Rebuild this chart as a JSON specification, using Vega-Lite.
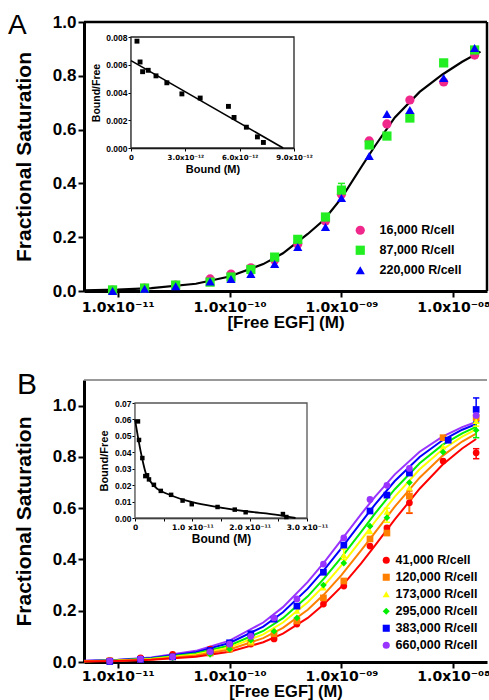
{
  "$schema": "https://vega.github.io/schema/vega-lite/v6.json",
  "padding": {"left": 8, "top": 12, "right": 0, "bottom": 0},
  "background": "white",
  "bounds": "flush",
  "spacing": 89,
  "resolve": {"scale": {"color": "independent", "shape": "independent", "stroke": "independent"}, "legend": {"color": "independent", "shape": "independent", "stroke": "independent"}},
  "config": {
    "font": "Liberation Sans",
    "view": {"stroke": null},
    "axis": {"grid": false, "domainColor": "black", "tickColor": "black", "labelColor": "black", "titleColor": "black", "labelFont": "Liberation Sans", "titleFont": "Liberation Sans", "labelFontWeight": "bold", "titleFontWeight": "bold"},
    "legend": {"labelFont": "Liberation Sans", "labelColor": "black"}
  },
  "datasets": {
    "a_fit": [
      {"x": 5e-12, "y": 0.002}, {"x": 1e-11, "y": 0.005}, {"x": 2e-11, "y": 0.011}, {"x": 5e-11, "y": 0.027},
      {"x": 1e-10, "y": 0.054}, {"x": 2e-10, "y": 0.1}, {"x": 3e-10, "y": 0.14}, {"x": 5e-10, "y": 0.212},
      {"x": 7e-10, "y": 0.265}, {"x": 1e-9, "y": 0.345}, {"x": 1.5e-9, "y": 0.46}, {"x": 2e-9, "y": 0.54},
      {"x": 3e-9, "y": 0.645}, {"x": 5e-9, "y": 0.74}, {"x": 8e-9, "y": 0.805}, {"x": 1.2e-8, "y": 0.852},
      {"x": 1.75e-8, "y": 0.89}
    ],
    "a_pts": [
      {"x": 9e-12, "y": 0.003, "s": "16,000 R/cell"}, {"x": 9e-12, "y": 0.004, "s": "87,000 R/cell"}, {"x": 9e-12, "y": 0.0, "s": "220,000 R/cell"},
      {"x": 1.74e-11, "y": 0.011, "s": "16,000 R/cell"}, {"x": 1.74e-11, "y": 0.011, "s": "87,000 R/cell"}, {"x": 1.74e-11, "y": 0.008, "s": "220,000 R/cell"},
      {"x": 3.3e-11, "y": 0.022, "s": "16,000 R/cell"}, {"x": 3.3e-11, "y": 0.022, "s": "87,000 R/cell"}, {"x": 3.3e-11, "y": 0.018, "s": "220,000 R/cell"},
      {"x": 6.7e-11, "y": 0.045, "s": "16,000 R/cell"}, {"x": 6.7e-11, "y": 0.033, "s": "87,000 R/cell"}, {"x": 6.7e-11, "y": 0.035, "s": "220,000 R/cell"},
      {"x": 1.03e-10, "y": 0.063, "s": "16,000 R/cell"}, {"x": 1.03e-10, "y": 0.052, "s": "87,000 R/cell"}, {"x": 1.03e-10, "y": 0.045, "s": "220,000 R/cell"},
      {"x": 1.55e-10, "y": 0.086, "s": "16,000 R/cell"}, {"x": 1.55e-10, "y": 0.08, "s": "87,000 R/cell"}, {"x": 1.55e-10, "y": 0.063, "s": "220,000 R/cell"},
      {"x": 2.53e-10, "y": 0.115, "s": "16,000 R/cell"}, {"x": 2.53e-10, "y": 0.126, "s": "87,000 R/cell"}, {"x": 2.53e-10, "y": 0.1, "s": "220,000 R/cell"},
      {"x": 4.07e-10, "y": 0.175, "s": "16,000 R/cell"}, {"x": 4.07e-10, "y": 0.192, "s": "87,000 R/cell"}, {"x": 4.07e-10, "y": 0.164, "s": "220,000 R/cell"},
      {"x": 7.2e-10, "y": 0.26, "s": "16,000 R/cell"}, {"x": 7.2e-10, "y": 0.275, "s": "87,000 R/cell"}, {"x": 7.2e-10, "y": 0.238, "s": "220,000 R/cell"},
      {"x": 1.0e-9, "y": 0.36, "s": "16,000 R/cell"}, {"x": 1.0e-9, "y": 0.375, "s": "87,000 R/cell"}, {"x": 1.0e-9, "y": 0.346, "s": "220,000 R/cell"},
      {"x": 1.77e-9, "y": 0.558, "s": "16,000 R/cell"}, {"x": 1.77e-9, "y": 0.543, "s": "87,000 R/cell"}, {"x": 1.77e-9, "y": 0.502, "s": "220,000 R/cell"},
      {"x": 2.55e-9, "y": 0.621, "s": "16,000 R/cell"}, {"x": 2.55e-9, "y": 0.576, "s": "87,000 R/cell"}, {"x": 2.55e-9, "y": 0.658, "s": "220,000 R/cell"},
      {"x": 4.09e-9, "y": 0.71, "s": "16,000 R/cell"}, {"x": 4.09e-9, "y": 0.643, "s": "87,000 R/cell"}, {"x": 4.09e-9, "y": 0.673, "s": "220,000 R/cell"},
      {"x": 8.2e-9, "y": 0.777, "s": "16,000 R/cell"}, {"x": 8.2e-9, "y": 0.848, "s": "87,000 R/cell"}, {"x": 8.2e-9, "y": 0.792, "s": "220,000 R/cell"},
      {"x": 1.55e-8, "y": 0.877, "s": "16,000 R/cell"}, {"x": 1.55e-8, "y": 0.896, "s": "87,000 R/cell"}, {"x": 1.55e-8, "y": 0.903, "s": "220,000 R/cell"}
    ],
    "a_err": [{"x": 1.0e-9, "lo": 0.355, "hi": 0.40}],
    "a_ins_pts": [
      {"bx": 3.3e-13, "bf": 0.0077}, {"bx": 5e-13, "bf": 0.0062}, {"bx": 6.4e-13, "bf": 0.0055}, {"bx": 9.5e-13, "bf": 0.0056},
      {"bx": 1.38e-12, "bf": 0.0052}, {"bx": 1.98e-12, "bf": 0.0047}, {"bx": 2.81e-12, "bf": 0.0039}, {"bx": 3.82e-12, "bf": 0.0036},
      {"bx": 5.38e-12, "bf": 0.003}, {"bx": 5.69e-12, "bf": 0.0022}, {"bx": 6.37e-12, "bf": 0.0015}, {"bx": 6.98e-12, "bf": 0.0008},
      {"bx": 7.31e-12, "bf": 0.0004}
    ],
    "a_ins_fit": [{"bx": 0, "bf": 0.0063}, {"bx": 8.4e-12, "bf": 0}],
    "b_fit": [
      {"x": 5e-12, "y": 0.0045, "g": "660,000 R/cell"}, {"x": 1e-11, "y": 0.009, "g": "660,000 R/cell"}, {"x": 2e-11, "y": 0.0179, "g": "660,000 R/cell"}, {"x": 5e-11, "y": 0.0435, "g": "660,000 R/cell"}, {"x": 1e-10, "y": 0.0833, "g": "660,000 R/cell"}, {"x": 2e-10, "y": 0.154, "g": "660,000 R/cell"}, {"x": 3e-10, "y": 0.214, "g": "660,000 R/cell"}, {"x": 5e-10, "y": 0.3125, "g": "660,000 R/cell"}, {"x": 7e-10, "y": 0.389, "g": "660,000 R/cell"}, {"x": 1e-9, "y": 0.476, "g": "660,000 R/cell"}, {"x": 1.5e-9, "y": 0.577, "g": "660,000 R/cell"}, {"x": 2e-9, "y": 0.645, "g": "660,000 R/cell"}, {"x": 3e-9, "y": 0.732, "g": "660,000 R/cell"}, {"x": 5e-9, "y": 0.82, "g": "660,000 R/cell"}, {"x": 8e-9, "y": 0.879, "g": "660,000 R/cell"}, {"x": 1.2e-8, "y": 0.916, "g": "660,000 R/cell"}, {"x": 1.6e-8, "y": 0.936, "g": "660,000 R/cell"},
      {"x": 5e-12, "y": 0.004, "g": "383,000 R/cell"}, {"x": 1e-11, "y": 0.0079, "g": "383,000 R/cell"}, {"x": 2e-11, "y": 0.0157, "g": "383,000 R/cell"}, {"x": 5e-11, "y": 0.0385, "g": "383,000 R/cell"}, {"x": 1e-10, "y": 0.0741, "g": "383,000 R/cell"}, {"x": 2e-10, "y": 0.138, "g": "383,000 R/cell"}, {"x": 3e-10, "y": 0.194, "g": "383,000 R/cell"}, {"x": 5e-10, "y": 0.286, "g": "383,000 R/cell"}, {"x": 7e-10, "y": 0.359, "g": "383,000 R/cell"}, {"x": 1e-9, "y": 0.444, "g": "383,000 R/cell"}, {"x": 1.5e-9, "y": 0.545, "g": "383,000 R/cell"}, {"x": 2e-9, "y": 0.615, "g": "383,000 R/cell"}, {"x": 3e-9, "y": 0.706, "g": "383,000 R/cell"}, {"x": 5e-9, "y": 0.8, "g": "383,000 R/cell"}, {"x": 8e-9, "y": 0.865, "g": "383,000 R/cell"}, {"x": 1.2e-8, "y": 0.906, "g": "383,000 R/cell"}, {"x": 1.6e-8, "y": 0.928, "g": "383,000 R/cell"},
      {"x": 5e-12, "y": 0.0034, "g": "295,000 R/cell"}, {"x": 1e-11, "y": 0.0068, "g": "295,000 R/cell"}, {"x": 2e-11, "y": 0.0136, "g": "295,000 R/cell"}, {"x": 5e-11, "y": 0.0333, "g": "295,000 R/cell"}, {"x": 1e-10, "y": 0.0645, "g": "295,000 R/cell"}, {"x": 2e-10, "y": 0.121, "g": "295,000 R/cell"}, {"x": 3e-10, "y": 0.171, "g": "295,000 R/cell"}, {"x": 5e-10, "y": 0.256, "g": "295,000 R/cell"}, {"x": 7e-10, "y": 0.326, "g": "295,000 R/cell"}, {"x": 1e-9, "y": 0.408, "g": "295,000 R/cell"}, {"x": 1.5e-9, "y": 0.508, "g": "295,000 R/cell"}, {"x": 2e-9, "y": 0.58, "g": "295,000 R/cell"}, {"x": 3e-9, "y": 0.674, "g": "295,000 R/cell"}, {"x": 5e-9, "y": 0.775, "g": "295,000 R/cell"}, {"x": 8e-9, "y": 0.847, "g": "295,000 R/cell"}, {"x": 1.2e-8, "y": 0.892, "g": "295,000 R/cell"}, {"x": 1.6e-8, "y": 0.917, "g": "295,000 R/cell"},
      {"x": 5e-12, "y": 0.003, "g": "173,000 R/cell"}, {"x": 1e-11, "y": 0.006, "g": "173,000 R/cell"}, {"x": 2e-11, "y": 0.012, "g": "173,000 R/cell"}, {"x": 5e-11, "y": 0.0294, "g": "173,000 R/cell"}, {"x": 1e-10, "y": 0.0571, "g": "173,000 R/cell"}, {"x": 2e-10, "y": 0.108, "g": "173,000 R/cell"}, {"x": 3e-10, "y": 0.154, "g": "173,000 R/cell"}, {"x": 5e-10, "y": 0.233, "g": "173,000 R/cell"}, {"x": 7e-10, "y": 0.298, "g": "173,000 R/cell"}, {"x": 1e-9, "y": 0.377, "g": "173,000 R/cell"}, {"x": 1.5e-9, "y": 0.476, "g": "173,000 R/cell"}, {"x": 2e-9, "y": 0.548, "g": "173,000 R/cell"}, {"x": 3e-9, "y": 0.645, "g": "173,000 R/cell"}, {"x": 5e-9, "y": 0.752, "g": "173,000 R/cell"}, {"x": 8e-9, "y": 0.829, "g": "173,000 R/cell"}, {"x": 1.2e-8, "y": 0.879, "g": "173,000 R/cell"}, {"x": 1.6e-8, "y": 0.907, "g": "173,000 R/cell"},
      {"x": 5e-12, "y": 0.0026, "g": "120,000 R/cell"}, {"x": 1e-11, "y": 0.0051, "g": "120,000 R/cell"}, {"x": 2e-11, "y": 0.0102, "g": "120,000 R/cell"}, {"x": 5e-11, "y": 0.025, "g": "120,000 R/cell"}, {"x": 1e-10, "y": 0.0488, "g": "120,000 R/cell"}, {"x": 2e-10, "y": 0.093, "g": "120,000 R/cell"}, {"x": 3e-10, "y": 0.133, "g": "120,000 R/cell"}, {"x": 5e-10, "y": 0.204, "g": "120,000 R/cell"}, {"x": 7e-10, "y": 0.264, "g": "120,000 R/cell"}, {"x": 1e-9, "y": 0.339, "g": "120,000 R/cell"}, {"x": 1.5e-9, "y": 0.435, "g": "120,000 R/cell"}, {"x": 2e-9, "y": 0.506, "g": "120,000 R/cell"}, {"x": 3e-9, "y": 0.606, "g": "120,000 R/cell"}, {"x": 5e-9, "y": 0.719, "g": "120,000 R/cell"}, {"x": 8e-9, "y": 0.804, "g": "120,000 R/cell"}, {"x": 1.2e-8, "y": 0.86, "g": "120,000 R/cell"}, {"x": 1.6e-8, "y": 0.891, "g": "120,000 R/cell"},
      {"x": 5e-12, "y": 0.0021, "g": "41,000 R/cell"}, {"x": 1e-11, "y": 0.0042, "g": "41,000 R/cell"}, {"x": 2e-11, "y": 0.0083, "g": "41,000 R/cell"}, {"x": 5e-11, "y": 0.0204, "g": "41,000 R/cell"}, {"x": 1e-10, "y": 0.04, "g": "41,000 R/cell"}, {"x": 2e-10, "y": 0.0769, "g": "41,000 R/cell"}, {"x": 3e-10, "y": 0.111, "g": "41,000 R/cell"}, {"x": 5e-10, "y": 0.172, "g": "41,000 R/cell"}, {"x": 7e-10, "y": 0.226, "g": "41,000 R/cell"}, {"x": 1e-9, "y": 0.294, "g": "41,000 R/cell"}, {"x": 1.5e-9, "y": 0.385, "g": "41,000 R/cell"}, {"x": 2e-9, "y": 0.455, "g": "41,000 R/cell"}, {"x": 3e-9, "y": 0.556, "g": "41,000 R/cell"}, {"x": 5e-9, "y": 0.676, "g": "41,000 R/cell"}, {"x": 8e-9, "y": 0.769, "g": "41,000 R/cell"}, {"x": 1.2e-8, "y": 0.833, "g": "41,000 R/cell"}, {"x": 1.6e-8, "y": 0.87, "g": "41,000 R/cell"}
    ],
    "b_pts": [
      {"x": 8.5e-12, "y": 0.006, "s": "41,000 R/cell"}, {"x": 1.6e-11, "y": 0.016, "s": "41,000 R/cell"}, {"x": 3.1e-11, "y": 0.03, "s": "41,000 R/cell"}, {"x": 6.7e-11, "y": 0.05, "s": "41,000 R/cell"}, {"x": 1e-10, "y": 0.05, "s": "41,000 R/cell"}, {"x": 1.55e-10, "y": 0.07, "s": "41,000 R/cell"}, {"x": 2.5e-10, "y": 0.09, "s": "41,000 R/cell"}, {"x": 4e-10, "y": 0.148, "s": "41,000 R/cell"}, {"x": 6.9e-10, "y": 0.226, "s": "41,000 R/cell"}, {"x": 1.05e-9, "y": 0.296, "s": "41,000 R/cell"}, {"x": 1.8e-9, "y": 0.452, "s": "41,000 R/cell"}, {"x": 2.55e-9, "y": 0.523, "s": "41,000 R/cell"}, {"x": 4.05e-9, "y": 0.621, "s": "41,000 R/cell"}, {"x": 8.1e-9, "y": 0.784, "s": "41,000 R/cell"}, {"x": 1.6e-8, "y": 0.816, "s": "41,000 R/cell"},
      {"x": 8.5e-12, "y": 0.004, "s": "120,000 R/cell"}, {"x": 1.6e-11, "y": 0.01, "s": "120,000 R/cell"}, {"x": 3.1e-11, "y": 0.02, "s": "120,000 R/cell"}, {"x": 6.7e-11, "y": 0.035, "s": "120,000 R/cell"}, {"x": 1e-10, "y": 0.05, "s": "120,000 R/cell"}, {"x": 1.55e-10, "y": 0.075, "s": "120,000 R/cell"}, {"x": 2.5e-10, "y": 0.11, "s": "120,000 R/cell"}, {"x": 4e-10, "y": 0.16, "s": "120,000 R/cell"}, {"x": 6.9e-10, "y": 0.25, "s": "120,000 R/cell"}, {"x": 1.05e-9, "y": 0.316, "s": "120,000 R/cell"}, {"x": 1.8e-9, "y": 0.48, "s": "120,000 R/cell"}, {"x": 2.55e-9, "y": 0.503, "s": "120,000 R/cell"}, {"x": 4.05e-9, "y": 0.647, "s": "120,000 R/cell"}, {"x": 8.1e-9, "y": 0.875, "s": "120,000 R/cell"}, {"x": 1.6e-8, "y": 0.953, "s": "120,000 R/cell"},
      {"x": 8.5e-12, "y": 0.005, "s": "173,000 R/cell"}, {"x": 1.6e-11, "y": 0.012, "s": "173,000 R/cell"}, {"x": 3.1e-11, "y": 0.02, "s": "173,000 R/cell"}, {"x": 6.7e-11, "y": 0.04, "s": "173,000 R/cell"}, {"x": 1e-10, "y": 0.055, "s": "173,000 R/cell"}, {"x": 1.55e-10, "y": 0.08, "s": "173,000 R/cell"}, {"x": 2.5e-10, "y": 0.128, "s": "173,000 R/cell"}, {"x": 4e-10, "y": 0.2, "s": "173,000 R/cell"}, {"x": 6.9e-10, "y": 0.29, "s": "173,000 R/cell"}, {"x": 1.05e-9, "y": 0.417, "s": "173,000 R/cell"}, {"x": 1.8e-9, "y": 0.51, "s": "173,000 R/cell"}, {"x": 2.55e-9, "y": 0.586, "s": "173,000 R/cell"}, {"x": 4.05e-9, "y": 0.68, "s": "173,000 R/cell"}, {"x": 8.1e-9, "y": 0.84, "s": "173,000 R/cell"}, {"x": 1.6e-8, "y": 0.94, "s": "173,000 R/cell"},
      {"x": 8.5e-12, "y": 0.005, "s": "295,000 R/cell"}, {"x": 1.6e-11, "y": 0.01, "s": "295,000 R/cell"}, {"x": 3.1e-11, "y": 0.016, "s": "295,000 R/cell"}, {"x": 6.7e-11, "y": 0.03, "s": "295,000 R/cell"}, {"x": 1e-10, "y": 0.05, "s": "295,000 R/cell"}, {"x": 1.55e-10, "y": 0.085, "s": "295,000 R/cell"}, {"x": 2.5e-10, "y": 0.12, "s": "295,000 R/cell"}, {"x": 4e-10, "y": 0.172, "s": "295,000 R/cell"}, {"x": 6.9e-10, "y": 0.3, "s": "295,000 R/cell"}, {"x": 1.05e-9, "y": 0.386, "s": "295,000 R/cell"}, {"x": 1.8e-9, "y": 0.53, "s": "295,000 R/cell"}, {"x": 2.55e-9, "y": 0.563, "s": "295,000 R/cell"}, {"x": 4.05e-9, "y": 0.7, "s": "295,000 R/cell"}, {"x": 8.1e-9, "y": 0.819, "s": "295,000 R/cell"}, {"x": 1.6e-8, "y": 0.904, "s": "295,000 R/cell"},
      {"x": 8.5e-12, "y": 0.002, "s": "383,000 R/cell"}, {"x": 1.6e-11, "y": 0.01, "s": "383,000 R/cell"}, {"x": 3.1e-11, "y": 0.02, "s": "383,000 R/cell"}, {"x": 6.7e-11, "y": 0.045, "s": "383,000 R/cell"}, {"x": 1e-10, "y": 0.075, "s": "383,000 R/cell"}, {"x": 1.55e-10, "y": 0.11, "s": "383,000 R/cell"}, {"x": 2.5e-10, "y": 0.167, "s": "383,000 R/cell"}, {"x": 4e-10, "y": 0.218, "s": "383,000 R/cell"}, {"x": 6.9e-10, "y": 0.35, "s": "383,000 R/cell"}, {"x": 1.05e-9, "y": 0.456, "s": "383,000 R/cell"}, {"x": 1.8e-9, "y": 0.589, "s": "383,000 R/cell"}, {"x": 2.55e-9, "y": 0.651, "s": "383,000 R/cell"}, {"x": 4.05e-9, "y": 0.737, "s": "383,000 R/cell"}, {"x": 9e-9, "y": 0.865, "s": "383,000 R/cell"}, {"x": 1.6e-8, "y": 0.985, "s": "383,000 R/cell"},
      {"x": 8.5e-12, "y": 0.004, "s": "660,000 R/cell"}, {"x": 1.6e-11, "y": 0.012, "s": "660,000 R/cell"}, {"x": 3.1e-11, "y": 0.02, "s": "660,000 R/cell"}, {"x": 6.7e-11, "y": 0.04, "s": "660,000 R/cell"}, {"x": 1e-10, "y": 0.07, "s": "660,000 R/cell"}, {"x": 1.55e-10, "y": 0.1, "s": "660,000 R/cell"}, {"x": 2.5e-10, "y": 0.172, "s": "660,000 R/cell"}, {"x": 4e-10, "y": 0.246, "s": "660,000 R/cell"}, {"x": 6.9e-10, "y": 0.382, "s": "660,000 R/cell"}, {"x": 1.05e-9, "y": 0.484, "s": "660,000 R/cell"}, {"x": 1.8e-9, "y": 0.634, "s": "660,000 R/cell"}, {"x": 2.55e-9, "y": 0.689, "s": "660,000 R/cell"}, {"x": 4.05e-9, "y": 0.755, "s": "660,000 R/cell"}, {"x": 1.6e-8, "y": 0.962, "s": "660,000 R/cell"}
    ],
    "b_err": [
      {"x": 4.05e-9, "lo": 0.58, "hi": 0.645, "g": "41,000 R/cell"},
      {"x": 1.6e-8, "lo": 0.793, "hi": 0.832, "g": "41,000 R/cell"},
      {"x": 4.05e-9, "lo": 0.582, "hi": 0.667, "g": "120,000 R/cell"},
      {"x": 1.05e-9, "lo": 0.40, "hi": 0.44, "g": "173,000 R/cell"},
      {"x": 2.55e-9, "lo": 0.545, "hi": 0.60, "g": "173,000 R/cell"},
      {"x": 1.6e-8, "lo": 0.92, "hi": 0.965, "g": "173,000 R/cell"},
      {"x": 1.6e-8, "lo": 0.875, "hi": 0.933, "g": "295,000 R/cell"},
      {"x": 1.6e-8, "lo": 0.94, "hi": 1.03, "g": "383,000 R/cell"}
    ],
    "b_ins_pts": [
      {"bx": 5.2e-13, "bf": 0.0588}, {"bx": 7e-13, "bf": 0.0475}, {"bx": 1.28e-12, "bf": 0.0365}, {"bx": 1.8e-12, "bf": 0.0255},
      {"bx": 2.1e-12, "bf": 0.026}, {"bx": 2.44e-12, "bf": 0.0235}, {"bx": 3.3e-12, "bf": 0.0202}, {"bx": 4.5e-12, "bf": 0.0165},
      {"bx": 6.3e-12, "bf": 0.0141}, {"bx": 8.3e-12, "bf": 0.0106}, {"bx": 9.9e-12, "bf": 0.0084}, {"bx": 1.44e-11, "bf": 0.0067},
      {"bx": 1.74e-11, "bf": 0.0051}, {"bx": 1.93e-11, "bf": 0.0035}, {"bx": 2.58e-11, "bf": 0.0024}, {"bx": 2.64e-11, "bf": 0.0006}
    ],
    "b_ins_fit": [
      {"bx": 0, "bf": 0.06}, {"bx": 5.8e-13, "bf": 0.048}, {"bx": 1.28e-12, "bf": 0.0357}, {"bx": 1.86e-12, "bf": 0.0275},
      {"bx": 2.56e-12, "bf": 0.0228}, {"bx": 3.9e-12, "bf": 0.0177}, {"bx": 5.93e-12, "bf": 0.0143}, {"bx": 1e-11, "bf": 0.0096},
      {"bx": 1.47e-11, "bf": 0.0065}, {"bx": 1.93e-11, "bf": 0.0041}, {"bx": 2.51e-11, "bf": 0.0018}, {"bx": 2.8e-11, "bf": 0}
    ]
  },
  "vconcat": [
    {
      "width": 403,
      "height": 269,
      "title": {"text": "A", "anchor": "start", "frame": "group", "fontSize": 28, "fontWeight": "normal", "font": "Liberation Sans", "color": "black", "dx": -76, "dy": 49, "offset": 0, "baseline": "alphabetic"},
      "resolve": {"scale": {"x": "independent", "y": "independent"}, "axis": {"x": "independent", "y": "independent"}},
      "layer": [
        {
          "layer": [
            {
              "data": {"name": "a_fit"},
              "mark": {"type": "line", "color": "black", "strokeWidth": 2.2},
              "encoding": {
                "x": {"field": "x", "type": "quantitative", "scale": {"type": "log", "domain": [5e-12, 2e-8], "range": [0, 403], "nice": false},
                  "axis": {"orient": "bottom", "values": [1e-11, 1e-10, 1e-9, 1e-8], "labelExpr": "datum.value < 3e-11 ? '1.0x10⁻¹¹' : datum.value < 3e-10 ? '1.0x10⁻¹⁰' : datum.value < 3e-9 ? '1.0x10⁻⁰⁹' : '1.0x10⁻⁰⁸'", "labelFont": "DejaVu Sans", "labelFontSize": 14, "labelFlush": false, "labelOverlap": false, "tickSize": 6, "tickWidth": 2, "domainWidth": 3, "labelPadding": 3, "title": "[Free EGF] (M)", "titleFontSize": 17, "titlePadding": 0}},
                "y": {"field": "y", "type": "quantitative", "scale": {"domain": [0, 1], "range": [269, 0], "nice": false},
                  "axis": {"orient": "left", "values": [0, 0.1, 0.2, 0.3, 0.4, 0.5, 0.6, 0.7, 0.8, 0.9, 1.0], "format": ".1f", "labelFontSize": 17, "tickSize": 6, "tickWidth": 2, "domainWidth": 3, "labelPadding": 2, "title": "Fractional Saturation", "titleFontSize": 21, "titlePadding": 18}}
              }
            },
            {
              "data": {"values": [{}]},
              "mark": {"type": "rule", "color": "black", "strokeWidth": 2.5},
              "encoding": {"y": {"datum": 1, "type": "quantitative"}}
            },
            {
              "data": {"values": [{}]},
              "mark": {"type": "rule", "color": "black", "strokeWidth": 2.5},
              "encoding": {"x": {"datum": 2e-8, "type": "quantitative"}}
            },
            {
              "data": {"name": "a_err"},
              "mark": {"type": "rule", "color": "#22EE22", "strokeWidth": 1.5},
              "encoding": {"x": {"field": "x", "type": "quantitative"}, "y": {"field": "lo", "type": "quantitative"}, "y2": {"field": "hi"}}
            },
            {
              "data": {"name": "a_err"},
              "mark": {"type": "point", "shape": "M-1,0L1,0", "size": 50, "filled": false, "strokeWidth": 1.5, "color": "#22EE22", "opacity": 1},
              "encoding": {"x": {"field": "x", "type": "quantitative"}, "y": {"field": "hi", "type": "quantitative"}}
            },
            {
              "data": {"name": "a_pts"},
              "mark": {"type": "point", "filled": true, "size": 85, "opacity": 1},
              "encoding": {
                "x": {"field": "x", "type": "quantitative"},
                "y": {"field": "y", "type": "quantitative"},
                "color": {"field": "s", "type": "nominal", "scale": {"domain": ["16,000 R/cell", "87,000 R/cell", "220,000 R/cell"], "range": ["#F0288C", "#22EE22", "#0000FF"]},
                  "legend": {"title": null, "orient": "none", "legendX": 270, "legendY": 202, "labelFontSize": 12.5, "labelFontWeight": "bold", "symbolSize": 85, "rowPadding": 7, "labelOffset": 13, "padding": 0}},
                "shape": {"field": "s", "type": "nominal", "scale": {"domain": ["16,000 R/cell", "87,000 R/cell", "220,000 R/cell"], "range": ["circle", "square", "triangle-up"]},
                  "legend": {"title": null, "orient": "none", "legendX": 270, "legendY": 202, "labelFontSize": 12.5, "labelFontWeight": "bold", "symbolSize": 85, "rowPadding": 7, "labelOffset": 13, "padding": 0}}
              }
            }
          ]
        },
        {
          "layer": [
            {
              "data": {"values": [{"bx": 0, "bx2": 9e-12, "bf": 0, "bf2": 0.008}]},
              "mark": {"type": "rect", "fill": "white", "stroke": "#222", "strokeWidth": 1.3},
              "encoding": {
                "x": {"field": "bx", "type": "quantitative", "scale": {"domain": [0, 9e-12], "range": [47, 210], "nice": false},
                  "axis": {"orient": "bottom", "offset": -143, "values": [0, 3e-12, 6e-12, 9e-12], "labelExpr": "datum.value == 0 ? '0' : format(datum.value * 1e12, '.1f') + 'x10⁻¹²'", "labelFont": "DejaVu Sans", "labelFontSize": 7, "labelFlush": false, "labelOverlap": false, "tickSize": 3, "tickWidth": 1, "domainWidth": 1.3, "labelPadding": 2, "title": "Bound (M)", "titleFontSize": 11, "titlePadding": 3}},
                "x2": {"field": "bx2"},
                "y": {"field": "bf", "type": "quantitative", "scale": {"domain": [0, 0.008], "range": [126, 15], "nice": false},
                  "axis": {"orient": "left", "offset": -47, "values": [0, 0.002, 0.004, 0.006, 0.008], "format": ".3f", "labelFontSize": 8.5, "tickSize": 3, "tickWidth": 1, "domainWidth": 1.3, "labelPadding": 1, "title": "Bound/Free", "titleFontSize": 10.5, "titlePadding": 4}},
                "y2": {"field": "bf2"}
              }
            },
            {
              "data": {"name": "a_ins_fit"},
              "mark": {"type": "line", "color": "black", "strokeWidth": 1.6},
              "encoding": {"x": {"field": "bx", "type": "quantitative"}, "y": {"field": "bf", "type": "quantitative"}}
            },
            {
              "data": {"name": "a_ins_pts"},
              "mark": {"type": "square", "color": "black", "size": 24, "opacity": 1},
              "encoding": {"x": {"field": "bx", "type": "quantitative"}, "y": {"field": "bf", "type": "quantitative"}}
            }
          ]
        }
      ]
    },
    {
      "width": 403,
      "height": 282,
      "title": {"text": "B", "anchor": "start", "frame": "group", "fontSize": 30, "fontWeight": "normal", "font": "Liberation Sans", "color": "black", "dx": -67, "dy": 45, "offset": 0, "baseline": "alphabetic"},
      "resolve": {"scale": {"x": "independent", "y": "independent"}, "axis": {"x": "independent", "y": "independent"}},
      "layer": [
        {
          "layer": [
            {
              "data": {"name": "b_fit"},
              "mark": {"type": "line", "strokeWidth": 2},
              "encoding": {
                "x": {"field": "x", "type": "quantitative", "scale": {"type": "log", "domain": [5e-12, 2e-8], "range": [0, 403], "nice": false},
                  "axis": {"orient": "bottom", "values": [1e-11, 1e-10, 1e-9, 1e-8], "labelExpr": "datum.value < 3e-11 ? '1.0x10⁻¹¹' : datum.value < 3e-10 ? '1.0x10⁻¹⁰' : datum.value < 3e-9 ? '1.0x10⁻⁰⁹' : '1.0x10⁻⁰⁸'", "labelFont": "DejaVu Sans", "labelFontSize": 14, "labelFlush": false, "labelOverlap": false, "tickSize": 6, "tickWidth": 2, "domainWidth": 3, "labelPadding": 1, "title": "[Free EGF] (M)", "titleFontSize": 16.5, "titlePadding": 0}},
                "y": {"field": "y", "type": "quantitative", "scale": {"domain": [0, 1.1], "range": [282, 0], "nice": false},
                  "axis": {"orient": "left", "values": [0, 0.1, 0.2, 0.3, 0.4, 0.5, 0.6, 0.7, 0.8, 0.9, 1.0, 1.1], "format": ".1f", "labelFontSize": 17, "tickSize": 6, "tickWidth": 2, "domainWidth": 3, "labelPadding": 2, "title": "Fractional Saturation", "titleFontSize": 21, "titlePadding": 18}},
                "stroke": {"field": "g", "type": "nominal", "scale": {"range": ["#FF7F00", "#FFFF00", "#00EE00", "#0000FF", "#FF0000", "#9933FF"]}, "legend": null}
              }
            },
            {
              "data": {"values": [{}]},
              "mark": {"type": "rule", "color": "#777777", "strokeWidth": 1.5},
              "encoding": {"y": {"datum": 1.1, "type": "quantitative"}}
            },
            {
              "data": {"name": "b_err"},
              "mark": {"type": "rule", "strokeWidth": 1.5},
              "encoding": {"x": {"field": "x", "type": "quantitative"}, "y": {"field": "lo", "type": "quantitative"}, "y2": {"field": "hi"}, "stroke": {"field": "g", "type": "nominal", "legend": null}}
            },
            {
              "data": {"name": "b_err"},
              "mark": {"type": "point", "shape": "M-1,0L1,0", "size": 40, "filled": false, "strokeWidth": 1.5, "opacity": 1},
              "encoding": {"x": {"field": "x", "type": "quantitative"}, "y": {"field": "hi", "type": "quantitative"}, "stroke": {"field": "g", "type": "nominal", "legend": null}}
            },
            {
              "data": {"name": "b_err"},
              "mark": {"type": "point", "shape": "M-1,0L1,0", "size": 40, "filled": false, "strokeWidth": 1.5, "opacity": 1},
              "encoding": {"x": {"field": "x", "type": "quantitative"}, "y": {"field": "lo", "type": "quantitative"}, "stroke": {"field": "g", "type": "nominal", "legend": null}}
            },
            {
              "data": {"name": "b_pts"},
              "mark": {"type": "point", "filled": true, "size": 45, "opacity": 1},
              "encoding": {
                "x": {"field": "x", "type": "quantitative"},
                "y": {"field": "y", "type": "quantitative"},
                "color": {"field": "s", "type": "nominal", "scale": {"domain": ["41,000 R/cell", "120,000 R/cell", "173,000 R/cell", "295,000 R/cell", "383,000 R/cell", "660,000 R/cell"], "range": ["#FF0000", "#FF7F00", "#FFFF00", "#00EE00", "#0000FF", "#9933FF"]},
                  "legend": {"title": null, "orient": "none", "legendX": 296, "legendY": 174, "labelFontSize": 12.5, "labelFontWeight": "bold", "symbolSize": 50, "rowPadding": 4, "labelOffset": 3, "padding": 0, "labelExpr": "datum.label == '41,000 R/cell' ? ' ' + datum.label : datum.label"}},
                "shape": {"field": "s", "type": "nominal", "scale": {"domain": ["41,000 R/cell", "120,000 R/cell", "173,000 R/cell", "295,000 R/cell", "383,000 R/cell", "660,000 R/cell"], "range": ["circle", "square", "triangle-up", "diamond", "square", "circle"]},
                  "legend": {"title": null, "orient": "none", "legendX": 296, "legendY": 174, "labelFontSize": 12.5, "labelFontWeight": "bold", "symbolSize": 50, "rowPadding": 4, "labelOffset": 3, "padding": 0, "labelExpr": "datum.label == '41,000 R/cell' ? ' ' + datum.label : datum.label"}}
              }
            }
          ]
        },
        {
          "layer": [
            {
              "data": {"values": [{"bx": 0, "bx2": 3e-11, "bf": 0, "bf2": 0.07}]},
              "mark": {"type": "rect", "fill": "white", "stroke": "#555", "strokeWidth": 1.3},
              "encoding": {
                "x": {"field": "bx", "type": "quantitative", "scale": {"domain": [0, 3e-11], "range": [51, 223], "nice": false},
                  "axis": {"orient": "bottom", "offset": -144, "values": [0, 5e-12, 1e-11, 1.5e-11, 2e-11, 2.5e-11, 3e-11], "labelExpr": "datum.value == 0 ? '0' : (abs(datum.value * 1e11 - round(datum.value * 1e11)) < 0.01 ? format(datum.value * 1e11, '.1f') + ' x10⁻¹¹' : '')", "labelFont": "DejaVu Sans", "labelFontSize": 7.5, "labelFlush": false, "labelOverlap": false, "tickSize": 3, "tickWidth": 1, "domainWidth": 1.3, "labelPadding": 2, "title": "Bound (M)", "titleFontSize": 12, "titlePadding": 3}},
                "x2": {"field": "bx2"},
                "y": {"field": "bf", "type": "quantitative", "scale": {"domain": [0, 0.07], "range": [138, 23], "nice": false},
                  "axis": {"orient": "left", "offset": -51, "values": [0, 0.01, 0.02, 0.03, 0.04, 0.05, 0.06, 0.07], "format": ".2f", "labelFontSize": 8.5, "tickSize": 3, "tickWidth": 1, "domainWidth": 1.3, "labelPadding": 1, "title": "Bound/Free", "titleFontSize": 11, "titlePadding": 5}},
                "y2": {"field": "bf2"}
              }
            },
            {
              "data": {"name": "b_ins_fit"},
              "mark": {"type": "line", "color": "black", "strokeWidth": 1.8, "interpolate": "monotone"},
              "encoding": {"x": {"field": "bx", "type": "quantitative"}, "y": {"field": "bf", "type": "quantitative"}}
            },
            {
              "data": {"name": "b_ins_pts"},
              "mark": {"type": "square", "color": "black", "size": 20, "opacity": 1},
              "encoding": {"x": {"field": "bx", "type": "quantitative"}, "y": {"field": "bf", "type": "quantitative"}}
            }
          ]
        }
      ]
    }
  ]
}
